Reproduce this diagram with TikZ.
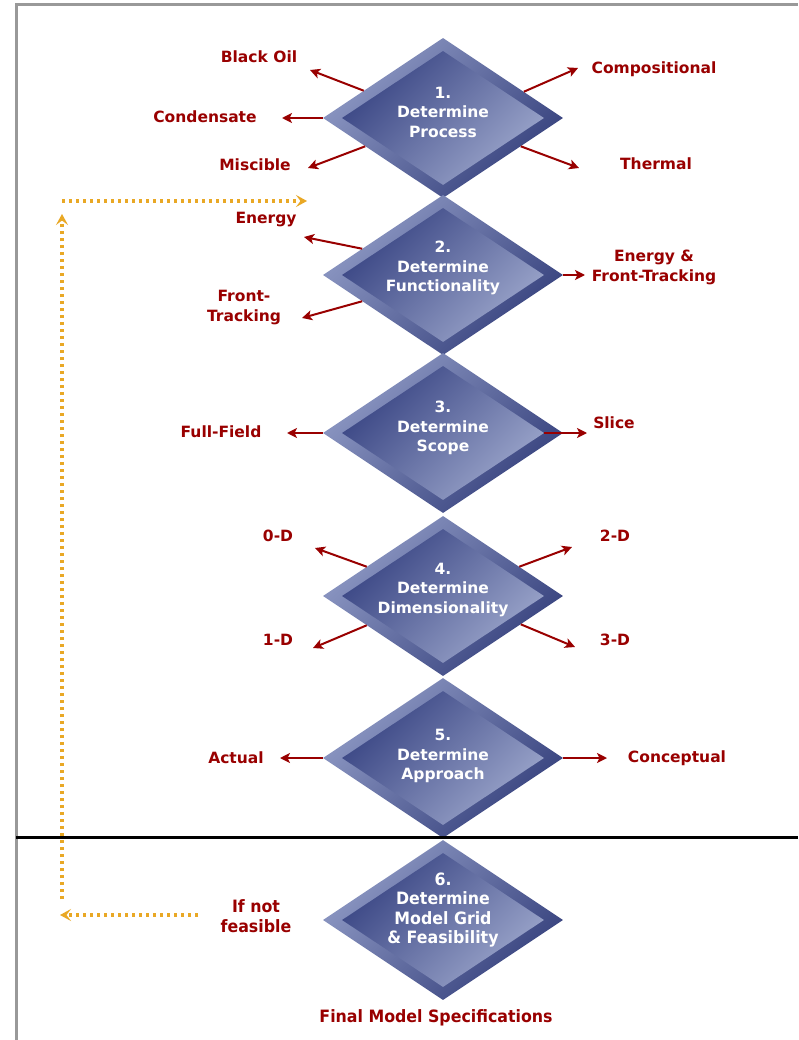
\documentclass[tikz,border=0pt]{standalone}
\usepackage{fontspec}
\usetikzlibrary{shapes.geometric,arrows.meta}
\newfontfamily\vfont{DejaVu Sans}
\newfontfamily\nfont{DejaVu Sans}[FakeStretch=0.93]
\definecolor{lblred}{HTML}{990000}
\definecolor{bevlight}{HTML}{8E99C4}
\definecolor{bevdark}{HTML}{36417D}
\definecolor{facedark}{HTML}{384483}
\definecolor{facelight}{HTML}{9CA6CB}
\definecolor{loopgold}{HTML}{E9A825}
\definecolor{framegray}{HTML}{999999}

\tikzset{
  outerdia/.style={diamond, minimum width=240pt, minimum height=160pt, inner sep=0pt,
    top color=bevlight, bottom color=bevdark, shading angle=45},
  innerdia/.style={diamond, minimum width=202pt, minimum height=134pt, inner sep=0pt,
    top color=facedark, bottom color=facelight, shading angle=45},
  dtext/.style={text=white, align=center, inner sep=0pt,
    font=\vfont\bfseries\fontsize{15.5}{19.5}\selectfont},
  ntext/.style={text=white, align=center, inner sep=0pt,
    font=\nfont\bfseries\fontsize{17}{19.5}\selectfont},
  lbl/.style={text=lblred, align=center, inner sep=0pt,
    font=\vfont\bfseries\fontsize{15.5}{20}\selectfont},
  nlbl/.style={text=lblred, align=center, inner sep=0pt,
    font=\nfont\bfseries\fontsize{17}{19.5}\selectfont},
  redarrow/.style={draw=lblred, line width=2pt, -{Stealth[length=10pt, width=10pt, inset=2.5pt]}},
  goldloop/.style={draw=loopgold, line width=3.2pt, dash pattern=on 3.2pt off 3.8pt,
    -{Stealth[length=11pt, width=12pt, inset=4.5pt]}},
}

\newcommand\stagedia[2]{%
  \node[outerdia] (d#1) at (443,#2) {};
  \node[innerdia] (d#1i) at (d#1.center) {};
}

\begin{document}
\begin{tikzpicture}[x=1pt, y=-1pt]
\useasboundingbox (0,0) rectangle (798,1040);
\fill[white] (0,0) rectangle (798,1040);

% page frame
\draw[framegray, line width=3pt] (16,1040) -- (16,5) -- (798,5);

% the six decision diamonds
\stagedia{1}{118}
\stagedia{2}{275}
\stagedia{3}{433}
\stagedia{4}{596}
\stagedia{5}{758}
\stagedia{6}{920}

% separator between the process steps and the grid step
\draw[black, line width=2.2pt] (16,837.5) -- (798,837.5);

% diamond captions
\node[dtext] (t1) at (443,112) {1.\\Determine\\Process};
\node[dtext] (t2) at (443,268) {2.\\Determine\\Functionality};
\node[dtext] (t3) at (443,428) {3.\\Determine\\Scope};
\node[dtext] (t4) at (443,590) {4.\\Determine\\Dimensionality};
\node[dtext] (t5) at (443,756) {5.\\Determine\\Approach};
\node[ntext] (t6) at (443,910) {6.\\Determine\\Model Grid\\\& Feasibility};

% option labels
\node[lbl] (blackoil) at (259,57) {Black Oil};
\node[lbl] (compositional) at (654,69) {Compositional};
\node[lbl] (condensate) at (205,117) {Condensate};
\node[lbl] (miscible) at (255,165) {Miscible};
\node[lbl] (thermal) at (656,164) {Thermal};
\node[lbl] (energy) at (266,220) {Energy};
\node[lbl] (fronttr) at (244,308) {Front-\\Tracking};
\node[lbl] (both) at (654,267) {Energy \&\\Front-Tracking};
\node[lbl] (fullfield) at (221,432) {Full-Field};
\node[lbl] (slice) at (614,423) {Slice};
\node[lbl] (zerod) at (278,536) {0-D};
\node[lbl] (twod) at (615,536) {2-D};
\node[lbl] (oned) at (278,640) {1-D};
\node[lbl] (threed) at (615,640) {3-D};
\node[lbl] (actual) at (236,758) {Actual};
\node[lbl] (conceptual) at (677,758) {Conceptual};
\node[nlbl] (notfeasible) at (256,916) {If not\\feasible};
\node[nlbl] (finalspec) at (436,1018) {Final Model Specifications};

% arrow tips
\coordinate (aBlackOil) at (310,70);
\coordinate (aCompositional) at (578,68);
\coordinate (aCondensate) at (282,118);
\coordinate (aMiscible) at (308,168);
\coordinate (aThermal) at (579,168);
\coordinate (aEnergy) at (304,237);
\coordinate (aFrontTr) at (302,318);
\coordinate (aBoth) at (585,275);
\coordinate (aFullField) at (287,433);
\coordinate (aSlice) at (587,433);
\coordinate (aZeroD) at (315,548);
\coordinate (aTwoD) at (572,547);
\coordinate (aOneD) at (313,648);
\coordinate (aThreeD) at (575,647);
\coordinate (aActual) at (280,758);
\coordinate (aConceptual) at (607,758);

% option arrows
\draw[redarrow] (d1.161) -- (aBlackOil);
\draw[redarrow] (d1.18) -- (aCompositional);
\draw[redarrow] (d1.west) -- (aCondensate);
\draw[redarrow] (d1.200) -- (aMiscible);
\draw[redarrow] (d1.340) -- (aThermal);
\draw[redarrow] (d2.162) -- (aEnergy);
\draw[redarrow] (d2.198) -- (aFrontTr);
\draw[redarrow] (d2.east) -- (aBoth);
\draw[redarrow] (d3.west) -- (aFullField);
\draw[redarrow] (d3i.east) -- (aSlice);
\draw[redarrow] (d4.159) -- (aZeroD);
\draw[redarrow] (d4.21) -- (aTwoD);
\draw[redarrow] (d4.201) -- (aOneD);
\draw[redarrow] (d4.340) -- (aThreeD);
\draw[redarrow] (d5.west) -- (aActual);
\draw[redarrow] (d5.east) -- (aConceptual);

% feedback loop when the grid is not feasible
\coordinate (loopStart) at (198,915);
\coordinate (loopLeft) at (60,915);
\coordinate (loopBottom) at (62,899);
\coordinate (loopUp) at (62,214);
\coordinate (loopTop) at (62,201);
\coordinate (loopEnd) at (307,201);
\draw[goldloop] (loopStart) -- (loopLeft);
\draw[goldloop] (loopBottom) -- (loopUp);
\draw[goldloop] (loopTop) -- (loopEnd);
\end{tikzpicture}
\end{document}
